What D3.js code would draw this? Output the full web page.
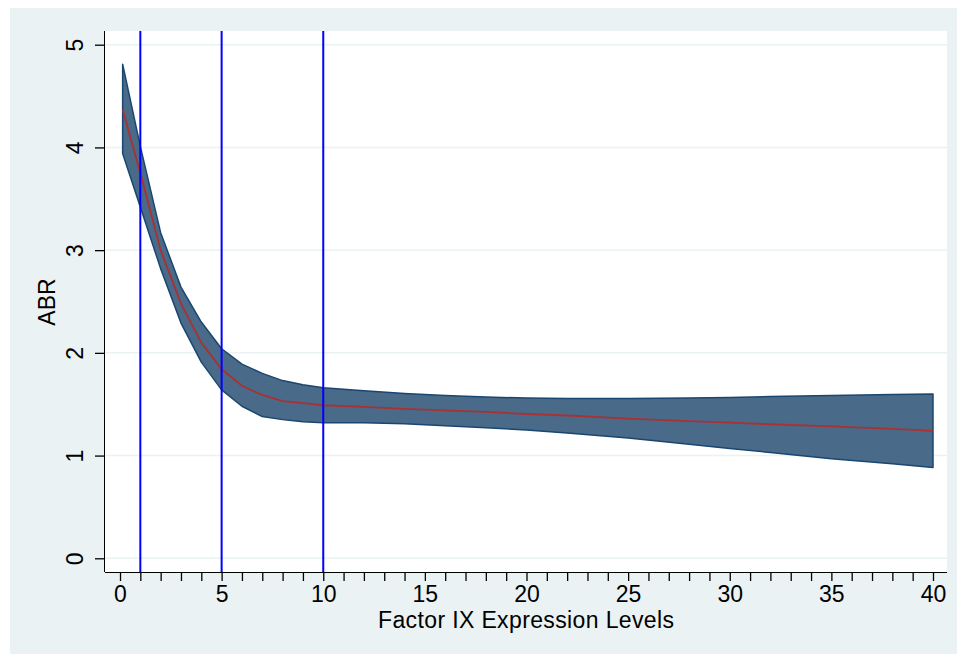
<!DOCTYPE html>
<html>
<head>
<meta charset="utf-8">
<script src="https://cdn.jsdelivr.net/npm/d3@7"></script>
<style>
  body { margin: 0; background: #fff; }
  svg text { font-family: "Liberation Sans", Arial, sans-serif; }
</style>
</head>
<body>
<script>
// data
var xVals  = [0.13, 1, 2, 3, 4, 5, 6, 7, 8, 9, 10, 12, 14, 16, 18, 20, 22, 25, 28, 30, 32, 35, 38, 40];
var abr    = [4.37, 3.75, 3.0, 2.48, 2.10, 1.84, 1.68, 1.59, 1.53, 1.51, 1.49, 1.475, 1.455, 1.44, 1.425, 1.405, 1.39, 1.36, 1.335, 1.32, 1.305, 1.285, 1.26, 1.24];
var upper  = [4.81, 4.01, 3.17, 2.64, 2.30, 2.04, 1.89, 1.80, 1.73, 1.69, 1.66, 1.63, 1.605, 1.585, 1.57, 1.56, 1.555, 1.555, 1.56, 1.565, 1.575, 1.585, 1.595, 1.60];
var lower  = [3.94, 3.42, 2.82, 2.29, 1.91, 1.64, 1.48, 1.38, 1.35, 1.33, 1.32, 1.32, 1.31, 1.29, 1.27, 1.25, 1.22, 1.17, 1.11, 1.07, 1.03, 0.97, 0.92, 0.885];
var refLines = [1, 5, 10];
var xTickLabels = [0, 5, 10, 15, 20, 25, 30, 35, 40];
var yTickLabels = [0, 1, 2, 3, 4, 5];

var W = 957, H = 654;
// plot region edges
var pL = 105, pR = 947, pT = 31, pB = 572;

var svg = d3.select("body").append("svg")
            .attr("width", W)
            .attr("height", H);

// graph region background
svg.append("rect")
   .attr("x", 10).attr("y", 8)
   .attr("width", W - 10).attr("height", H - 8)
   .attr("fill", "#eaf2f3");

// plot region
svg.append("rect")
   .attr("x", pL).attr("y", pT)
   .attr("width", pR - pL).attr("height", pB - pT)
   .attr("fill", "#fff");

var x = d3.scaleLinear().domain([0, 40]).range([120, 933]);
var y = d3.scaleLinear().domain([0, 5]).range([558.3, 44.7]);

// horizontal grid
svg.selectAll(".grid")
   .data(yTickLabels)
   .enter().append("line")
   .attr("x1", pL).attr("x2", pR)
   .attr("y1", function(d) { return y(d); })
   .attr("y2", function(d) { return y(d); })
   .attr("stroke", "#eaf2f3")
   .attr("stroke-width", 1.5);

var pts = xVals.map(function(v, i) {
  return { x: v, m: abr[i], lo: lower[i], hi: upper[i] };
});

// confidence band
var area = d3.area()
             .x(function(d) { return x(d.x); })
             .y0(function(d) { return y(d.lo); })
             .y1(function(d) { return y(d.hi); });

svg.append("path")
   .datum(pts)
   .attr("d", area)
   .attr("fill", "#4a6a89")
   .attr("stroke", "#1a476f")
   .attr("stroke-width", 1.5)
   .attr("stroke-linejoin", "round");

// fitted line
var line = d3.line()
             .x(function(d) { return x(d.x); })
             .y(function(d) { return y(d.m); });

svg.append("path")
   .datum(pts)
   .attr("d", line)
   .attr("fill", "none")
   .attr("stroke", "#a83232")
   .attr("stroke-width", 1.8);

// reference lines
svg.selectAll(".ref")
   .data(refLines)
   .enter().append("line")
   .attr("x1", function(d) { return x(d); })
   .attr("x2", function(d) { return x(d); })
   .attr("y1", pT).attr("y2", pB)
   .attr("stroke", "#0000ff")
   .attr("stroke-width", 2);

// x axis
var xAxis = d3.axisBottom(x)
              .tickValues(d3.range(0, 41))
              .tickSize(9)
              .tickFormat(function(d) { return xTickLabels.indexOf(d) >= 0 ? d : ""; });

var gx = svg.append("g")
            .attr("transform", "translate(0," + pB + ")")
            .call(xAxis);
gx.select(".domain").attr("d", "M" + pL + ",0.5H" + pR);
gx.selectAll("line").attr("stroke", "#000").attr("stroke-width", 1.3);
gx.selectAll("text")
  .attr("font-size", 23)
  .attr("fill", "#000")
  .attr("dy", null)
  .attr("y", 30);

// y axis
var yAxis = d3.axisLeft(y)
              .tickValues(yTickLabels)
              .tickSize(10)
              .tickFormat(d3.format("d"));

var gy = svg.append("g")
            .attr("transform", "translate(" + pL + ",0)")
            .call(yAxis);
gy.select(".domain").attr("d", "M-0.5," + pT + "V" + pB);
gy.selectAll("line").attr("stroke", "#000").attr("stroke-width", 1.3);
gy.selectAll("text")
  .attr("font-size", 23)
  .attr("fill", "#000")
  .attr("x", null).attr("dy", null)
  .attr("text-anchor", "middle")
  .attr("transform", "translate(-22,0) rotate(-90)")
  .attr("y", 0);

// axis titles
svg.append("text")
   .attr("x", 526).attr("y", 628)
   .attr("text-anchor", "middle")
   .attr("font-size", 23)
   .attr("textLength", 296)
   .text("Factor IX Expression Levels");

svg.append("text")
   .attr("transform", "translate(55,302) rotate(-90)")
   .attr("text-anchor", "middle")
   .attr("font-size", 23)
   .text("ABR");
</script>
</body>
</html>
